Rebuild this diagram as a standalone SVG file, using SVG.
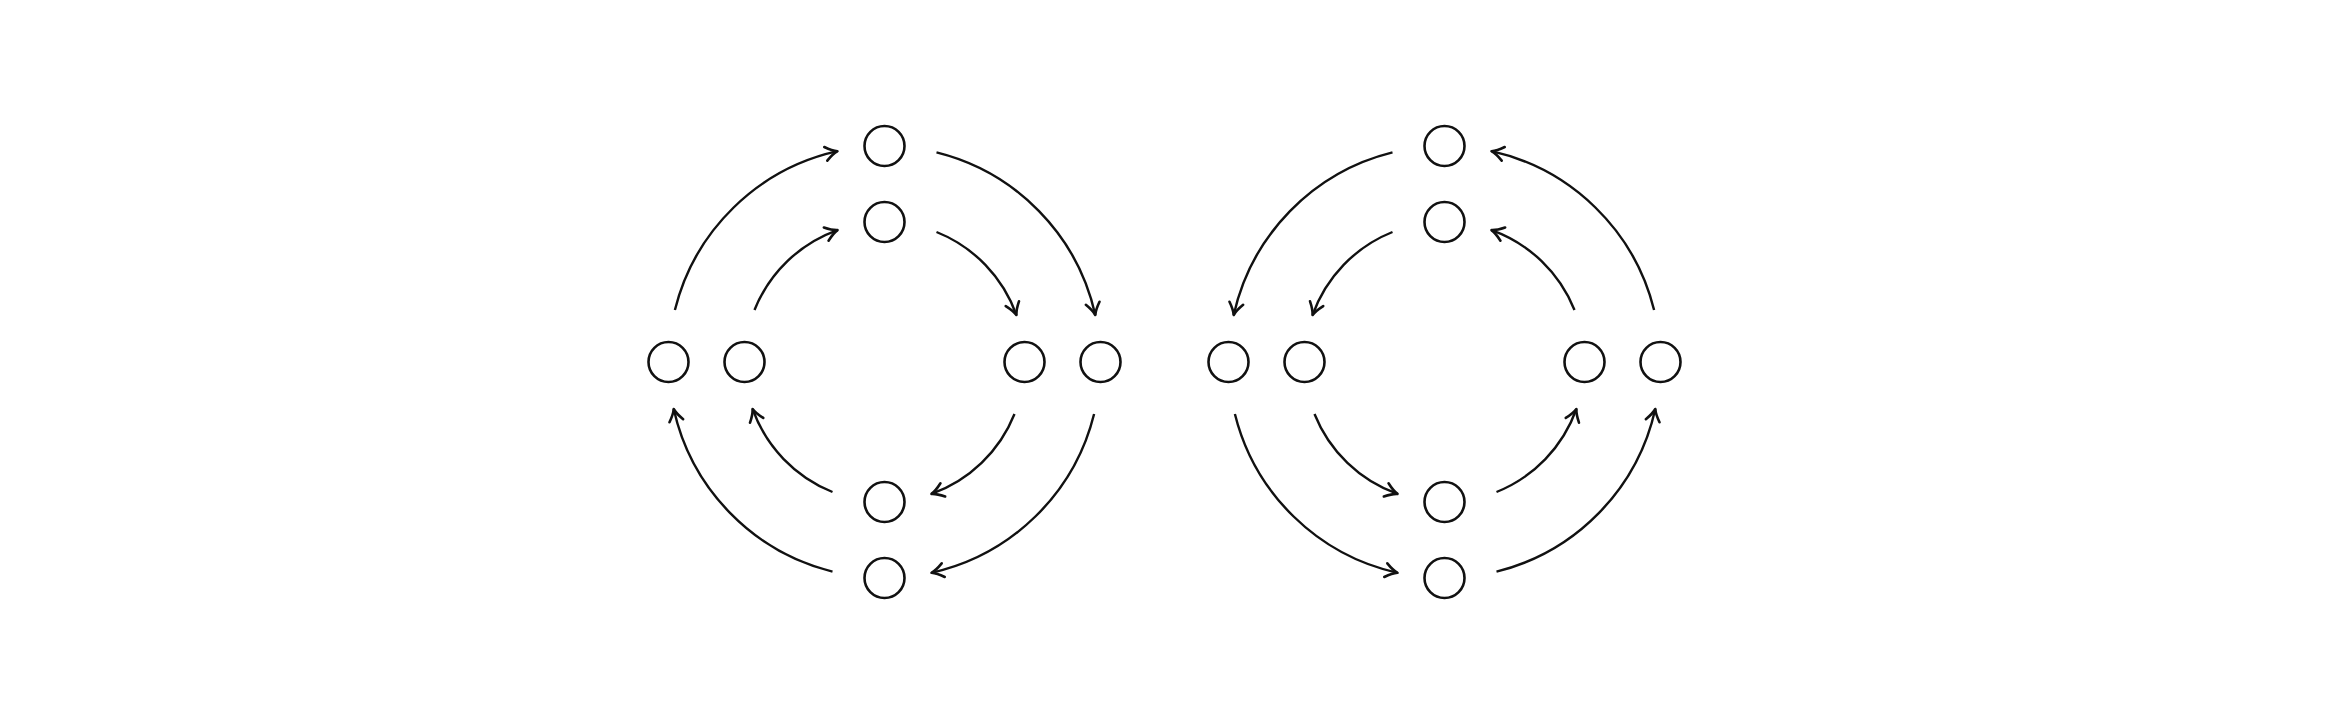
<svg xmlns="http://www.w3.org/2000/svg" width="2329" height="719" viewBox="0 0 2329 719">
  <style>
    .node { fill: none; stroke: #111; stroke-width: 2.6; }
    .edge { fill: none; stroke: #111; stroke-width: 2.4; marker-end: url(#arr); }
  </style>
  <defs>
    <marker id="arr" markerUnits="userSpaceOnUse" viewBox="-15 -10 18 20" markerWidth="18" markerHeight="20" refX="0" refY="0" orient="auto">
      <path d="M -12,-7 Q -5,-1.5 0,0 Q -5,1.5 -12,7" fill="none" stroke="#111" stroke-width="2.6" stroke-linecap="round" stroke-linejoin="round"/>
    </marker>
  </defs>
  <rect width="2329" height="719" fill="#fff"/>

  <g id="left-diagram">
    <g id="L-top-outer"><circle class="node" cx="884.5" cy="146" r="20"/></g>
    <g id="L-top-inner"><circle class="node" cx="884.5" cy="222" r="20"/></g>
    <g id="L-bottom-inner"><circle class="node" cx="884.5" cy="502" r="20"/></g>
    <g id="L-bottom-outer"><circle class="node" cx="884.5" cy="578" r="20"/></g>
    <g id="L-left-outer"><circle class="node" cx="668.5" cy="362" r="20"/></g>
    <g id="L-left-inner"><circle class="node" cx="744.5" cy="362" r="20"/></g>
    <g id="L-right-inner"><circle class="node" cx="1024.5" cy="362" r="20"/></g>
    <g id="L-right-outer"><circle class="node" cx="1100.5" cy="362" r="20"/></g>
  </g>

  <g id="right-diagram">
    <g id="R-top-outer"><circle class="node" cx="1444.5" cy="146" r="20"/></g>
    <g id="R-top-inner"><circle class="node" cx="1444.5" cy="222" r="20"/></g>
    <g id="R-bottom-inner"><circle class="node" cx="1444.5" cy="502" r="20"/></g>
    <g id="R-bottom-outer"><circle class="node" cx="1444.5" cy="578" r="20"/></g>
    <g id="R-left-outer"><circle class="node" cx="1228.5" cy="362" r="20"/></g>
    <g id="R-left-inner"><circle class="node" cx="1304.5" cy="362" r="20"/></g>
    <g id="R-right-inner"><circle class="node" cx="1584.5" cy="362" r="20"/></g>
    <g id="R-right-outer"><circle class="node" cx="1660.5" cy="362" r="20"/></g>
  </g>

  <g id="connectors">
    <!-- left diagram, clockwise -->
    <path class="edge" d="M 674.9,310 A 216 216 0 0 1 837.5,151.2"/>
    <path class="edge" d="M 936.5,152.4 A 216 216 0 0 1 1095.3,315"/>
    <path class="edge" d="M 1094.1,414 A 216 216 0 0 1 931.5,572.8"/>
    <path class="edge" d="M 832.5,571.6 A 216 216 0 0 1 673.7,409"/>
    <path class="edge" d="M 754.5,310 A 140 140 0 0 1 837.5,230.1"/>
    <path class="edge" d="M 936.5,232 A 140 140 0 0 1 1016.4,315"/>
    <path class="edge" d="M 1014.5,414 A 140 140 0 0 1 931.5,493.9"/>
    <path class="edge" d="M 832.5,492 A 140 140 0 0 1 752.6,409"/>
    <!-- right diagram, counterclockwise -->
    <path class="edge" d="M 1392.5,152.4 A 216 216 0 0 0 1233.7,315"/>
    <path class="edge" d="M 1234.9,414 A 216 216 0 0 0 1397.5,572.8"/>
    <path class="edge" d="M 1496.5,571.6 A 216 216 0 0 0 1655.3,409"/>
    <path class="edge" d="M 1654.1,310 A 216 216 0 0 0 1491.5,151.2"/>
    <path class="edge" d="M 1392.5,232 A 140 140 0 0 0 1312.6,315"/>
    <path class="edge" d="M 1314.5,414 A 140 140 0 0 0 1397.5,493.9"/>
    <path class="edge" d="M 1496.5,492 A 140 140 0 0 0 1576.4,409"/>
    <path class="edge" d="M 1574.5,310 A 140 140 0 0 0 1491.5,230.1"/>
  </g>
</svg>
